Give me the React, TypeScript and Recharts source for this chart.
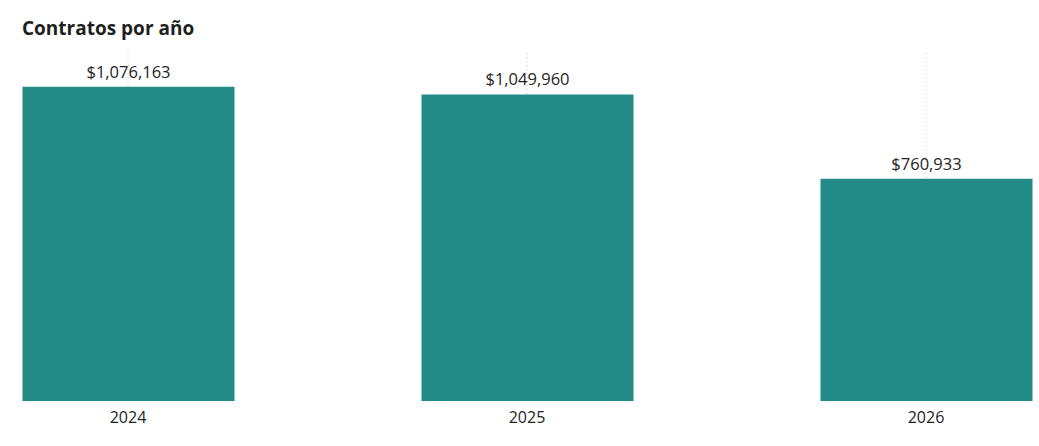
import React from "react";
import { BarChart, Bar, XAxis, YAxis, CartesianGrid, LabelList } from "recharts";

const years = [2024, 2025, 2026];
const contractTotals = [1076163, 1049960, 760933];
const yMax = 1192000;

const data = years.map((year, i) => ({ year, total: contractTotals[i] }));

const money = (v: any) => `$${Number(v).toLocaleString("en-US")}`;

export default function App() {
  return (
    <div
      style={{
        position: "fixed",
        left: 0,
        top: 0,
        width: 1039,
        height: 446,
        background: "#ffffff",
        fontFamily: "'Open Sans', sans-serif",
      }}
    >
      <div
        style={{
          position: "absolute",
          left: 22,
          top: 15,
          fontSize: 19,
          fontWeight: 700,
          color: "#201f1e",
        }}
      >
        Contratos por año
      </div>
      <BarChart
        width={1039}
        height={446}
        data={data}
        margin={{ top: 53, right: 7, left: 22, bottom: 15 }}
      >
        <CartesianGrid
          vertical
          horizontal={false}
          syncWithTicks
          stroke="#c8c8c8"
          strokeDasharray="1 3"
        />
        <XAxis
          dataKey="year"
          type="number"
          domain={[2024, 2026]}
          ticks={years}
          padding={{ left: 106, right: 106 }}
          axisLine={false}
          tickLine={false}
          height={30}
          tick={{ fill: "#252423", fontSize: 16 }}
          tickMargin={5}
        />
        <YAxis hide domain={[0, yMax]} />
        <Bar dataKey="total" fill="#228b87" barSize={212} isAnimationActive={false}>
          <LabelList
            dataKey="total"
            position="top"
            offset={9}
            formatter={money}
            style={{ fill: "#252423", fontSize: 16.5 }}
          />
        </Bar>
      </BarChart>
    </div>
  );
}
